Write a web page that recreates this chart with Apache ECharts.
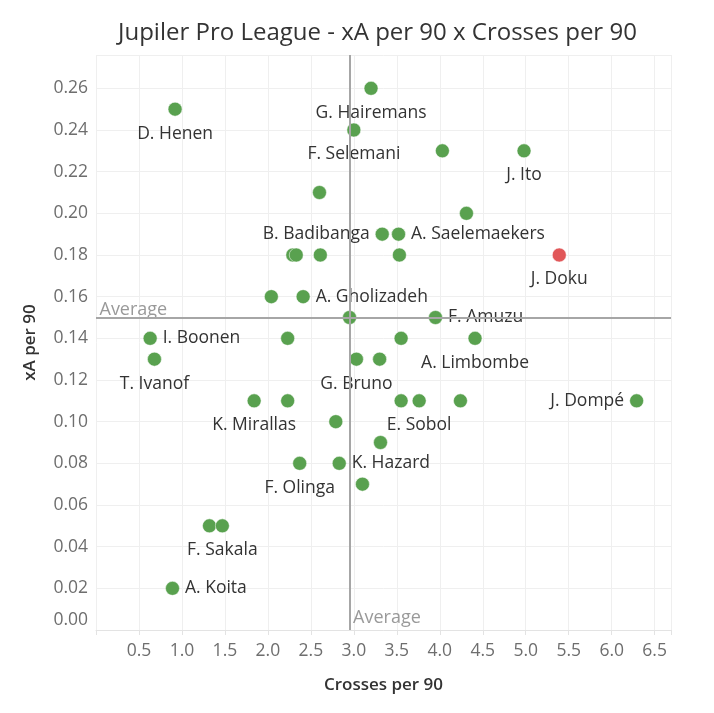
<!DOCTYPE html>
<html>
<head>
<meta charset="utf-8">
<script src="https://cdn.jsdelivr.net/npm/echarts@6/dist/echarts.min.js"></script>
<style>
html,body{margin:0;padding:0;background:#fff;}
#main{width:714px;height:713px;}
</style>
</head>
<body>
<div id="main"></div>
<script>
// ---- data ----
var players = ['D. Henen','G. Hairemans','F. Selemani','','J. Ito','','','B. Badibanga','A. Saelemaekers','','','','','J. Doku','','A. Gholizadeh','','F. Amuzu','I. Boonen','','','A. Limbombe','T. Ivanof','G. Bruno','','K. Mirallas','','','E. Sobol','','J. Dompé','','','F. Olinga','K. Hazard','','','F. Sakala','A. Koita'];
var crossesPer90 = [0.92,3.20,3.00,4.03,4.98,2.60,4.31,3.33,3.52,2.29,2.33,2.61,3.53,5.39,2.04,2.41,2.95,3.95,0.63,2.23,3.55,4.41,0.68,3.03,3.30,1.84,2.23,3.55,3.76,4.24,6.29,2.79,3.31,2.37,2.83,3.10,1.32,1.47,0.89];
var xaPer90 = [0.25,0.26,0.24,0.23,0.23,0.21,0.20,0.19,0.19,0.18,0.18,0.18,0.18,0.18,0.16,0.16,0.15,0.15,0.14,0.14,0.14,0.14,0.13,0.13,0.13,0.11,0.11,0.11,0.11,0.11,0.11,0.10,0.09,0.08,0.08,0.07,0.05,0.05,0.02];
var labelSide = ['bottom','bottom','bottom','','bottom','','','left','right','','','','','bottom','','right','','right','right','','','bottom','bottom','bottom','','bottom','','','bottom','','left','','','bottom','right','','','bottom','right'];
var highlighted = ['J. Doku'];
var avgCrosses = 2.95;
var avgXA = 0.148;
var xTitle = 'Crosses per 90';
var yTitle = 'xA per 90';
var chartTitle = 'Jupiler Pro League - xA per 90 x Crosses per 90';

// ---- build ----
var FONT = "'Open Sans', sans-serif";
var pts = players.map(function(n, i){
  var item = {
    name: n,
    value: [crossesPer90[i], xaPer90[i]],
    itemStyle: { color: highlighted.indexOf(n) >= 0 ? '#e15759' : '#59a14f' }
  };
  if (n) {
    item.label = { show: true, position: labelSide[i], distance: labelSide[i] === 'bottom' ? 8 : 5 };
  } else {
    item.label = { show: false };
  }
  return item;
});

function isMult(v, step){ var r = v/step; return Math.abs(r - Math.round(r)) < 1e-6; }

var chart = echarts.init(document.getElementById('main'), null, {renderer:'canvas'});
chart.setOption({
  animation: false,
  backgroundColor: '#fff',
  title: {
    text: chartTitle,
    left: 113, top: 16,
    textStyle: { fontFamily: FONT, fontSize: 24, fontWeight: 'normal', color: '#333' }
  },
  grid: { left: 96, top: 55, right: 43, bottom: 83 },
  xAxis: {
    type: 'value', min: 0, max: 6.69, interval: 0.5,
    name: xTitle, nameLocation: 'middle', nameGap: 47,
    nameTextStyle: { fontFamily: FONT, fontSize: 17, fontWeight: 600, color: '#333' },
    axisLine: { show: true, lineStyle: { color: '#e3e3e3', width: 1 } },
    axisTick: { show: true, length: 5, lineStyle: { color: '#e3e3e3' } },
    splitLine: { show: true, lineStyle: { color: '#efefef', width: 1 } },
    axisLabel: {
      margin: 12, fontFamily: FONT, fontSize: 17.5, color: '#6e6e6e',
      formatter: function(v){ return (v > 0 && isMult(v, 0.5)) ? v.toFixed(1) : ''; }
    }
  },
  yAxis: {
    type: 'value', min: 0, max: 0.276, interval: 0.02,
    name: yTitle, nameLocation: 'middle', nameGap: 57,
    nameTextStyle: { fontFamily: FONT, fontSize: 17, fontWeight: 600, color: '#333' },
    axisLine: { show: false },
    axisTick: { show: false },
    splitLine: { show: true, lineStyle: { color: '#efefef', width: 1 } },
    axisLabel: {
      margin: 8, fontFamily: FONT, fontSize: 17.5, color: '#6e6e6e',
      formatter: function(v){
        if (!isMult(v, 0.02)) return '';
        if (v === 0) return '{z|0.00}';
        return v.toFixed(2);
      },
      rich: { z: { fontFamily: FONT, fontSize: 17.5, color: '#6e6e6e', padding: [0,0,20,0] } }
    }
  },
  series: [
    {
      type: 'scatter',
      symbolSize: 14,
      data: pts,
      itemStyle: { borderColor: 'rgba(255,255,255,0.5)', borderWidth: 1, opacity: 1 },
      label: { formatter: '{b}', fontFamily: FONT, fontSize: 17.5, color: '#333' },
      markLine: {
        silent: true, symbol: 'none',
        label: { show: false },
        lineStyle: { color: '#a6a6a6', width: 2, type: 'solid' },
        data: [ { xAxis: avgCrosses }, { yAxis: avgXA } ]
      },
      z: 3
    },
    {
      type: 'scatter',
      symbolSize: 1,
      itemStyle: { color: 'rgba(0,0,0,0)' },
      silent: true,
      data: [ { name: 'Average', value: [avgCrosses, 0] }, { name: 'Average', value: [0, avgXA] } ],
      label: { show: true, formatter: 'Average', position: 'right', distance: 3, offset: [0, -12],
               fontFamily: FONT, fontSize: 18, color: '#7f7f7f' },
      z: 2
    }
  ]
});
</script>
</body>
</html>
